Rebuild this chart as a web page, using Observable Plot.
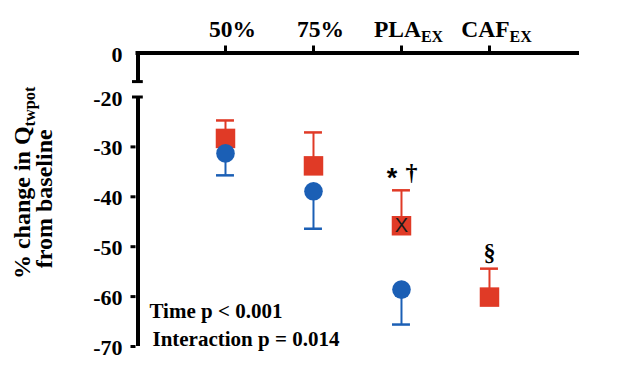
<!DOCTYPE html>
<html>
<head>
<meta charset="utf-8">
<script src="https://cdn.jsdelivr.net/npm/d3@7"></script>
<script src="https://cdn.jsdelivr.net/npm/@observablehq/plot@0.6"></script>
<style>
  html, body { margin: 0; padding: 0; background: #fff; }
  #chart svg { display: block; }
</style>
</head>
<body>
<div id="chart"></div>
<script>
// ---- data ----
const categories = ["50%", "75%", "PLA_EX", "CAF_EX"];
const blueMean = [-31.3, -38.9, -58.6];          // circles
const blueLower = [-35.7, -46.4, -65.6];         // lower error bar ends
const redMean = [-28.3, -33.8, -45.8, -60.1];    // squares
const redUpper = [-24.7, -27.1, -38.7, -54.4];   // upper error bar ends
const yTicks = [0, -20, -30, -40, -50, -60, -70];
const yTicksWithMarks = [-30, -40, -50, -60, -70];
const axisBreak = [-13, -20];
const asteriskLabel = [{i: 1.893, y: -36.3, label: "*"}];
const markLabels = [{i: 2.114, y: -35.0, label: "\u2020"}, {i: 3, y: -51.2, label: "\u00a7"}];
const crossLabel = "X";
const stats = [
  {i: -0.864, y: -63.0, label: "Time p < 0.001"},
  {i: -0.83, y: -68.6, label: "Interaction p = 0.014"}
];
const yTitle = ["% change in Q_twpot", "from baseline"];

const RED = "#e03a26";
const BLUE = "#1b5fb5";
const SERIF = "Liberation Serif, Times New Roman, serif";
const SANS = "Liberation Sans, Arial, sans-serif";

const blue = blueMean.map((m, i) => ({i, m, e: blueLower[i]}));
const red = redMean.map((m, i) => ({i, m, e: redUpper[i]}));

const xMin = -1.017, xMax = 4.023;
const cap = 0.102;

const plot = Plot.plot({
  width: 618,
  height: 374,
  marginLeft: 135.5,
  marginRight: 39,
  marginTop: 52.5,
  marginBottom: 28,
  style: {fontFamily: SERIF, background: "white", color: "black"},
  x: {type: "linear", domain: [xMin, xMax], label: null, axis: null},
  y: {type: "linear", domain: [0, -20, -70], range: [52.5, 96.5, 346], label: null, axis: null},
  marks: [
    // top axis line
    Plot.ruleY([0], {strokeWidth: 4, stroke: "black"}),
    // broken vertical axis
    Plot.ruleX([{y1: 0, y2: axisBreak[0]}, {y1: axisBreak[1], y2: -70}], {x: () => xMin, y1: "y1", y2: "y2", dx: 2, strokeWidth: 4, stroke: "black"}),
    Plot.ruleY(axisBreak, {y: d => d, x1: () => xMin - 0.04, x2: () => xMin + 0.083, strokeWidth: 3, stroke: "black"}),
    Plot.axisY({ticks: yTicksWithMarks, tickSize: 5, strokeWidth: 3, tickFormat: () => "", label: null}),
    Plot.axisY({ticks: yTicks, tickSize: 0, tickPadding: 13.5, fontSize: 22, fontWeight: "bold", dy: 1.5, label: null, tickFormat: d => d}),
    Plot.axisX({anchor: "top", ticks: [0, 1, 2, 3], tickSize: 8, strokeWidth: 3, tickFormat: () => "", label: null}),
    Plot.axisX({anchor: "top", ticks: [0, 1, 2, 3], tickSize: 0, tickPadding: 16, dx: 7, fontSize: 23.5, fontWeight: "bold", tickFormat: i => categories[i], label: null}),
    // red error bars
    Plot.ruleX(red, {x: "i", y1: "m", y2: "e", stroke: RED, strokeWidth: 2}),
    Plot.ruleY(red, {y: "e", x1: d => d.i - cap, x2: d => d.i + cap, stroke: RED, strokeWidth: 2.5}),
    // blue error bars
    Plot.ruleX(blue, {x: "i", y1: "m", y2: "e", stroke: BLUE, strokeWidth: 2}),
    Plot.ruleY(blue, {y: "e", x1: d => d.i - cap, x2: d => d.i + cap, stroke: BLUE, strokeWidth: 2.5}),
    // markers
    Plot.dot(red, {x: "i", y: "m", symbol: "square", r: 11, fill: RED, stroke: "none"}),
    Plot.dot(blue, {x: "i", y: "m", symbol: "circle", r: 9.3, fill: BLUE, stroke: "none"}),
    Plot.text([red[2]], {x: "i", y: "m", text: () => crossLabel, fontFamily: SANS, fontSize: 20, fill: "#1a1a1a"}),
    // annotations
    Plot.text(asteriskLabel, {x: "i", y: "y", text: "label", fontFamily: SANS, fontSize: 27, fontWeight: "bold", fill: "black"}),
    Plot.text(markLabels, {x: "i", y: "y", text: "label", fontSize: 24, fontWeight: "bold", fill: "black"}),
    Plot.text(stats, {x: "i", y: "y", text: "label", textAnchor: "start", fontSize: 21, fontWeight: "bold", fill: "black"}),
    // y title (two lines)
    Plot.text([{y: -37.2, label: yTitle[0]}], {x: () => xMin, y: "y", text: "label", rotate: -90, dx: -113.5, fontSize: 24, fontWeight: "bold", fill: "black"}),
    Plot.text([{y: -40.4, label: yTitle[1]}], {x: () => xMin, y: "y", text: "label", rotate: -90, dx: -91.5, fontSize: 24, fontWeight: "bold", fill: "black"})
  ]
});

// subscripts: "A_B" -> A + subscript B
d3.select(plot).selectAll("text").each(function() {
  const t = this.textContent;
  if (t.includes("_")) {
    const [main, sub] = t.split("_");
    const sel = d3.select(this);
    sel.text(null);
    sel.append("tspan").text(main);
    sel.append("tspan").attr("font-size", "0.68em").attr("dy", "0.3em").text(sub);
  }
});

document.getElementById("chart").appendChild(plot);
</script>
</body>
</html>
